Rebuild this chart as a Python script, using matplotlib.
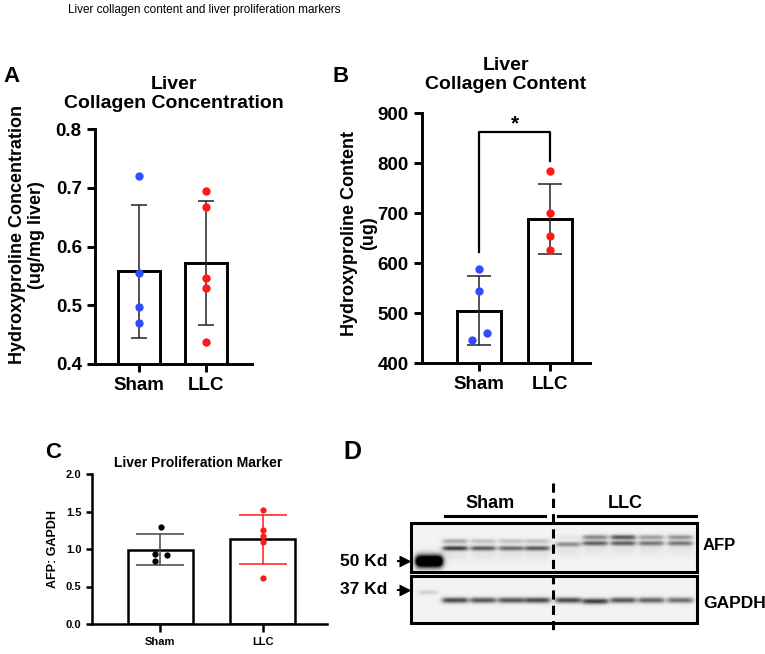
import numpy as np
import matplotlib
matplotlib.use("Agg")
import matplotlib.pyplot as plt
from matplotlib.patches import Rectangle

plt.rcParams["font.family"] = ["Liberation Sans", "DejaVu Sans"]
plt.rcParams["font.weight"] = "bold"

W, H = 765, 654

# ---- data ----
groups = ["Sham", "LLC"]

# A: collagen concentration
conc_mean = [0.558, 0.572]
conc_sd = [0.113, 0.106]
conc_pts = [[0.720, 0.555, 0.497, 0.469],
            [0.694, 0.668, 0.547, 0.529, 0.437]]
conc_jit = [[0, 0, 0, 0], [0, 0, 0, 0, 0]]

# B: collagen content
cont_mean = [505, 689]
cont_sd = [69, 70]
cont_pts = [[588, 544, 460, 446], [785, 701, 655, 627]]
cont_jit = [[0, 0, 0.11, -0.1], [0, 0, 0, 0]]

# C: AFP / GAPDH
afp_mean = [0.99, 1.13]
afp_sd = [0.205, 0.33]
afp_pts = [[1.30, 0.93, 0.92, 0.84], [1.52, 1.26, 1.18, 1.10, 0.62]]
afp_jit = [[0.01, -0.05, 0.06, -0.05], [0, 0, 0, 0, 0]]

# D: western blot band darkness per lane (4 Sham + 5 LLC)
lane_x = [455, 483, 511, 537, 568, 595, 623, 651, 680]
afp_low = [0.75, 0.62, 0.55, 0.62, 0.40, 0.60, 0.60, 0.50, 0.50]
afp_low_y = [548, 548, 548, 548, 544, 543, 543, 543, 543]
afp_up = [0.30, 0.20, 0.20, 0.20, 0.05, 0.45, 0.65, 0.35, 0.40]
afp_up_y = [541, 541, 541, 541, 537, 537, 537, 537, 537]
gapdh = [0.70, 0.65, 0.65, 0.70, 0.70, 0.75, 0.65, 0.60, 0.55]
gapdh_y = [600, 600, 600, 600, 600, 601, 600, 600, 600]

BLUE = "#2f4dff"
RED = "#ff1a1a"


def px(l, t, r, b):
    return [l / W, 1 - b / H, (r - l) / W, (b - t) / H]


def bar_panel(ax, mean, sd, pts, jit, width, colors, ecolors, ms, capsize, lw, fs_tick, fs_x):
    x = np.arange(len(mean))
    ax.bar(x, mean, width=width, color="white", edgecolor="black", linewidth=lw, zorder=2)
    for i in range(len(mean)):
        ax.errorbar(x[i], mean[i], yerr=sd[i], fmt="none", ecolor=ecolors[i],
                    elinewidth=1.1, capsize=capsize, capthick=1.1, zorder=3)
        ax.plot(x[i] + np.array(jit[i]), pts[i], "o", color=colors[i], ms=ms,
                mec="none", zorder=4, clip_on=False)
    for s in ["top", "right"]:
        ax.spines[s].set_visible(False)
    for s in ["left", "bottom"]:
        ax.spines[s].set_linewidth(lw)
    ax.set_xticks(x)
    ax.set_xticklabels(groups, fontsize=fs_x, fontweight="bold")
    ax.tick_params(axis="both", width=lw, length=6, labelsize=fs_tick)
    for t in ax.get_yticklabels():
        t.set_fontweight("bold")


fig = plt.figure(figsize=(W / 100, H / 100), dpi=100)

fig.text(68 / W, 1 - 10 / H, "Liver collagen content and liver proliferation markers",
         fontsize=8.5, fontweight="normal", va="center", ha="left")

# ---- A ----
axA = fig.add_axes(px(95, 129, 252, 364))
bar_panel(axA, conc_mean, conc_sd, conc_pts, conc_jit, 0.627, [BLUE, RED], ["#222", "#222"],
          6, 6, 2.1, 13.5, 13)
axA.set_xlim(-0.657, 1.687)
axA.set_ylim(0.4, 0.8)
axA.set_yticks([0.4, 0.5, 0.6, 0.7, 0.8])
axA.set_title("Liver\nCollagen Concentration", fontsize=14, fontweight="bold", pad=15, linespacing=1.2)
axA.set_ylabel("Hydroxyproline Concentration\n(ug/mg liver)", fontsize=13, fontweight="bold",
               linespacing=1.15)
axA.yaxis.set_label_coords(-0.32, 0.55)
fig.text(3 / W, 1 - 77 / H, "A", fontsize=16, fontweight="bold", va="center", ha="left")

# ---- B ----
axB = fig.add_axes(px(422, 113, 590, 363))
bar_panel(axB, cont_mean, cont_sd, cont_pts, cont_jit, 0.62, [BLUE, RED], ["#222", "#222"],
          6, 8.5, 2.1, 13.5, 13)
axB.set_xlim(-0.803, 1.563)
axB.set_ylim(400, 900)
axB.set_yticks([400, 500, 600, 700, 800, 900])
axB.set_title("Liver\nCollagen Content", fontsize=14, fontweight="bold", pad=17, linespacing=1.2)
axB.set_ylabel("Hydroxyproline Content\n(ug)", fontsize=13, fontweight="bold",
               linespacing=1.15)
axB.yaxis.set_label_coords(-0.27, 0.52)
# significance bracket
axB.plot([0, 0, 1, 1], [622, 862, 862, 804], color="black", lw=1.6, zorder=5, clip_on=False)
axB.text(0.5, 860, "*", ha="center", va="bottom", fontsize=15, fontweight="bold")
fig.text(332 / W, 1 - 76 / H, "B", fontsize=16, fontweight="bold", va="center", ha="left")

# ---- C ----
axC = fig.add_axes(px(92, 474, 327, 624))
bar_panel(axC, afp_mean, afp_sd, afp_pts, afp_jit, 0.64, ["black", RED], ["#444", RED],
          4.5, 17.5, 1.8, 8, 10.5)
axC.set_xlim(-0.67, 1.63)
axC.set_ylim(0, 2.0)
axC.set_yticks([0, 0.5, 1.0, 1.5, 2.0])
axC.set_yticklabels(["0.0", "0.5", "1.0", "1.5", "2.0"], fontweight="bold")
axC.tick_params(axis="y", length=4)
axC.set_title("Liver Proliferation Marker", fontsize=10, fontweight="bold", pad=5, x=0.45)
axC.set_ylabel("AFP: GAPDH", fontsize=9, fontweight="bold", labelpad=5)
fig.text(45 / W, 1 - 453 / H, "C", fontsize=16, fontweight="bold", va="center", ha="left")

# ---- D (blot) ----
axD = fig.add_axes([0, 0, 1, 1], zorder=-1)
axD.set_xlim(0, W)
axD.set_ylim(H, 0)
axD.axis("off")
fig.text(343 / W, 1 - 452 / H, "D", fontsize=18, fontweight="bold", va="center", ha="left")


def blot(x0, x1, y0, y1, bands):
    xs = np.arange(x0, x1, 0.5)
    ys = np.arange(y0, y1, 0.5)
    X, Y = np.meshgrid(xs, ys)
    dark = np.zeros_like(X)
    for xc, hw, yc, sy, d in bands:
        prof_x = 1 / (1 + np.exp(-(X - (xc - hw)) / 1.5)) / (1 + np.exp((X - (xc + hw)) / 1.5))
        dark += d * prof_x * np.exp(-0.5 * ((Y - yc) / sy) ** 2)
    img = 0.95 - 0.95 * np.clip(dark, 0, 1)
    axD.imshow(img, cmap="gray", vmin=0, vmax=1, extent=(x0, x1, y1, y0),
               interpolation="bilinear", aspect="auto", zorder=1)
    axD.add_patch(Rectangle((x0, y0), x1 - x0, y1 - y0, fill=False, ec="black", lw=2.2, zorder=3))


top_bands = [(429, 13, 561, 4.2, 1.8)]
top_bands += [(lane_x[i], 12, afp_low_y[i], 1.7, afp_low[i]) for i in range(9)]
top_bands += [(lane_x[i], 12, afp_up_y[i], 1.7, afp_up[i]) for i in range(9)]
top_bands += [(lane_x[i], 12, afp_low_y[i] + 6, 4, 0.06) for i in range(9)]
blot(411, 697, 523, 572, top_bands)

bot_bands = [(428, 9, 592, 1.6, 0.15)]
bot_bands += [(lane_x[i], 12.5, gapdh_y[i], 2.0, gapdh[i]) for i in range(9)]
blot(411, 697, 576, 623, bot_bands)

axD.plot([553, 553], [483, 632], color="black", lw=2.2, ls=(0, (3, 2)), zorder=4)
axD.plot([445, 545], [516, 516], color="black", lw=2.2)
axD.plot([558, 696], [516, 516], color="black", lw=2.2)
axD.text(490, 504, "Sham", ha="center", va="center", fontsize=13, fontweight="bold")
axD.text(625, 504, "LLC", ha="center", va="center", fontsize=13, fontweight="bold")
axD.text(703, 546, "AFP", ha="left", va="center", fontsize=12, fontweight="bold")
axD.text(703, 603, "GAPDH", ha="left", va="center", fontsize=12.5, fontweight="bold")
axD.text(387, 561, "50 Kd", ha="right", va="center", fontsize=12.5, fontweight="bold")
axD.text(387, 590, "37 Kd", ha="right", va="center", fontsize=12.5, fontweight="bold")
for yy in [561, 590]:
    axD.plot([398, 404], [yy, yy], color="black", lw=1.5)
    axD.plot([405], [yy], marker=">", color="black", ms=9, mec="none")

fig.savefig("out.png", dpi=100)
